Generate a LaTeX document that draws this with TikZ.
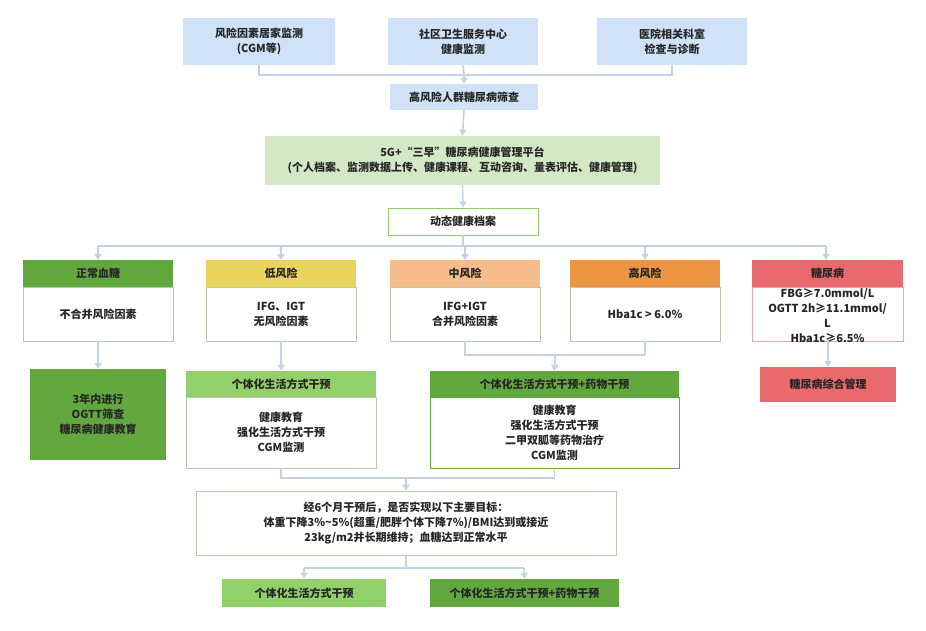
\documentclass[tikz,border=0pt]{standalone}
\usepackage{fontspec}
\setmainfont{Noto Sans CJK SC}
\usetikzlibrary{arrows.meta}
\definecolor{conn}{HTML}{C3D3E6}
\definecolor{topb}{HTML}{CFE2F7}
\definecolor{plat}{HTML}{D3E9C6}
\definecolor{dg}{HTML}{63A83F}
\definecolor{lg}{HTML}{92D06C}
\definecolor{yl}{HTML}{E9D45C}
\definecolor{pe}{HTML}{F6BC8C}
\definecolor{or}{HTML}{EE9445}
\definecolor{rd}{HTML}{E8696E}
\definecolor{bd}{HTML}{B9C9AE}
\tikzset{
  box/.style={draw=none, inner sep=2pt, align=center, font=\fontsize{11}{15}\selectfont\bfseries, text=black!85},
  body/.style={box, draw=bd, fill=white, line width=0.8pt},
  ln/.style={draw=conn, line width=1.6pt},
  ar/.style={ln, -{Triangle[width=7pt,length=6pt]}}
}
\begin{document}
\begin{tikzpicture}[x=1pt,y=-1pt]
\useasboundingbox (0,0) rectangle (926,631);
% top
\node[box, fill=topb, minimum width=152, minimum height=47] (a) at (259,41.5) {风险因素居家监测\\(CGM等)};
\node[box, fill=topb, minimum width=150, minimum height=47] (b) at (463,41.5) {社区卫生服务中心\\健康监测};
\node[box, fill=topb, minimum width=150, minimum height=47] (c) at (672,41.5) {医院相关科室\\检查与诊断};
\node[box, fill=topb, minimum width=148, minimum height=26] (d) at (464,97) {高风险人群糖尿病筛查};
\node[box, fill=plat, minimum width=395, minimum height=49] (e) at (462.5,160.5) {5G+“三早”糖尿病健康管理平台\\(个人档案、监测数据上传、健康课程、互动咨询、量表评估、健康管理)};
\node[body, draw=lg, minimum width=150, minimum height=27] (f) at (463,221.5) {动态健康档案};
\coordinate (j1) at (464,75);
\draw[ln] (a.south) |- (j1) (c.south) |- (j1) (b.south) -- (j1);
\draw[ar] (j1) -- (d.north);
\draw[ar] (d.south) -- (e.north);
\draw[ar] (e.south) -- (f.north);
% categories
\foreach \n/\x/\c/\t/\bt in {n1/98/dg/正常血糖/不合并风险因素, n2/281/yl/低风险/{IFG、IGT\\无风险因素}, n3/465/pe/中风险/{IFG+IGT\\合并风险因素}, n4/645/or/高风险/{Hba1c > 6.0\%}}{
  \node[box, fill=\c, minimum width=150, minimum height=27] (\n h) at (\x,273.5) {\t};
  \node[body, minimum width=150, minimum height=54] (\n b) at (\x,314) {\bt};
}
\node[box, fill=rd, minimum width=151, minimum height=27] (n5h) at (827.5,273.5) {糖尿病};
\node[body, draw=rd!60, minimum width=151, minimum height=54] (n5b) at (827.5,314) {};
\node[box] at (827.5,316) {FBG≥7.0mmol/L\\OGTT 2h≥11.1mmol/\\L\\Hba1c≥6.5\%};
\coordinate (j2) at (463,246);
\draw[ln] (f.south) -- (j2);
\draw[ln] (98,246) -- (826,246);
\foreach \n/\x in {n1h/98,n2h/281,n3h/465,n4h/645,n5h/826}{\draw[ar] (\x,246) -- (\x,260);}
% second row
\node[box, fill=dg, minimum width=136, minimum height=91] (g1) at (98,414.5) {3年内进行\\OGTT筛查\\糖尿病健康教育};
\node[box, fill=lg, minimum width=190, minimum height=26] (g2h) at (281,384) {个体化生活方式干预};
\node[body, minimum width=190, minimum height=71] (g2b) at (281,432.5) {健康教育\\强化生活方式干预\\CGM监测};
\node[box, fill=dg, minimum width=249, minimum height=26] (g3h) at (554.5,384) {个体化生活方式干预+药物干预};
\node[body, draw=dg, minimum width=249, minimum height=71] (g3b) at (554.5,432.5) {健康教育\\强化生活方式干预\\二甲双胍等药物治疗\\CGM监测};
\node[box, fill=rd, minimum width=136, minimum height=35] (g4) at (828,384.5) {糖尿病综合管理};
\draw[ar] (n1b.south) -- (g1.north);
\draw[ar] (n2b.south) -- (g2h.north);
\coordinate (j3) at (555,355);
\draw[ln] (n3b.south) |- (j3) (n4b.south) |- (j3);
\draw[ar] (j3) -- (g3h.north);
\draw[ar] (828,341) -- (g4.north);
% bottom
\node[body, minimum width=420, minimum height=64] (h) at (406,523) {经6个月干预后，是否实现以下主要目标：\\体重下降3\%\textasciitilde5\%(超重/肥胖个体下降7\%)/BMI达到或接近\\23kg/m2并长期维持；血糖达到正常水平};
\coordinate (j4) at (406,478);
\draw[ln] (g2b.south) |- (j4) (g3b.south) |- (j4);
\draw[ar] (j4) -- (h.north);
\node[box, fill=lg, minimum width=164, minimum height=28] (k1) at (304,593) {个体化生活方式干预};
\node[box, fill=dg, minimum width=189, minimum height=28] (k2) at (524.5,593) {个体化生活方式干预+药物干预};
\coordinate (j5) at (406,568);
\draw[ln] (h.south) -- (j5);
\draw[ln] (304,568) -- (524,568);
\draw[ar] (304,568) -- (k1.north);
\draw[ar] (524,568) -- (k2.north);
\end{tikzpicture}
\end{document}
